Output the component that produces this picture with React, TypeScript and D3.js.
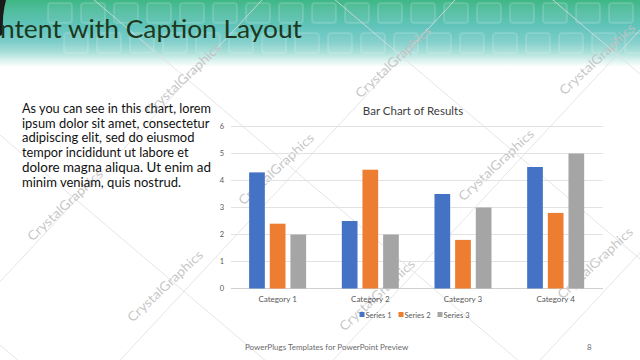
import React from "react";
import * as d3 from "d3";

const categories = ["Category 1", "Category 2", "Category 3", "Category 4"];
const seriesNames = ["Series 1", "Series 2", "Series 3"];
const series1 = [4.3, 2.5, 3.5, 4.5];
const series2 = [2.4, 4.4, 1.8, 2.8];
const series3 = [2, 2, 3, 5];
const yTicks = [0, 1, 2, 3, 4, 5, 6];
const captionLines = [
  "As you can see in this chart, lorem",
  "ipsum dolor sit amet, consectetur",
  "adipiscing elit, sed do eiusmod",
  "tempor incididunt ut labore et",
  "dolore magna aliqua. Ut enim ad",
  "minim veniam, quis nostrud.",
];
const captionWidths = [189, 187.5, 172.5, 166.5, 189, 159];
const watermarks: [number, number][] = [
  [184, 80], [394, 63], [598, 60], [66, 206], [277, 170], [497, 166], [166, 287], [378, 296], [596, 264],
];
const upLines = [262, 455, 668, 875, 1080];
const downLines = [345, 135, -80, -285, -470];

const colors = ["#4472c4", "#ed7d31", "#a5a5a5"];
const FONT = "Lato, 'Open Sans', sans-serif";

export default function App() {
  const data = [series1, series2, series3];
  const x0 = d3.scaleBand<string>().domain(categories).range([231.3, 602]).padding(0);
  const x1 = d3.scaleBand<string>().domain(seriesNames).range([-28.5, 28.5]).paddingInner(0.24);
  const y = d3.scaleLinear().domain([0, 6]).range([288.5, 126.5]);

  const squares: { x: number; y: number }[] = [];
  for (let r = 0; r < 2; r++) {
    for (let i = 0; i < 20; i++) {
      squares.push({ x: 48 + i * 33 + (r ? 16 : 0), y: r ? 33 : 3 });
    }
  }

  return (
    <svg width={640} height={360} style={{ position: "fixed", left: 0, top: 0, background: "#fff" }}>
      <defs>
        <linearGradient id="hdr" x1="0" y1="0" x2="0" y2="1">
          <stop offset="0" stopColor="#3fb785" />
          <stop offset="0.15" stopColor="#4fbd9c" />
          <stop offset="0.4" stopColor="#62c4bd" />
          <stop offset="0.62" stopColor="#7ccdc9" />
          <stop offset="0.78" stopColor="#a9dfd8" />
          <stop offset="0.9" stopColor="#dbf2ef" />
          <stop offset="1" stopColor="#ffffff" />
        </linearGradient>
      </defs>
      <rect x={0} y={0} width={640} height={360} fill="#fff" />
      {/* header band */}
      <rect x={0} y={0} width={640} height={67} fill="url(#hdr)" />
      {squares.map((s, i) => (
        <rect key={i} x={s.x} y={s.y} width={24} height={20} rx={3} fill="#ffffff" fillOpacity={0.06}
          stroke="#ffffff" strokeOpacity={0.14} strokeWidth={2} />
      ))}
      <path d="M0,0 L6,0 Q2,14 3,34 L0,36 Z" fill="#1a1a1a" />
      {/* watermark lines */}
      <g stroke="#dedede" strokeOpacity={0.8} strokeWidth={1}>
        {upLines.map((c, i) => (
          <line key={"u" + i} x1={c} y1={0} x2={c - 0.93 * 360} y2={360} />
        ))}
        {downLines.map((c, i) => (
          <line key={"d" + i} x1={0} y1={c} x2={640} y2={c + 0.85 * 640} />
        ))}
      </g>
      {watermarks.map(([cx, cy], i) => (
        <text key={"w" + i} x={cx} y={cy} transform={`rotate(-43 ${cx} ${cy})`} textAnchor="middle"
          dominantBaseline="middle" fontFamily={FONT} fontSize={13} fill="#c0c0c0" fillOpacity={0.9}
          textLength={98} lengthAdjust="spacingAndGlyphs">
          CrystalGraphics
        </text>
      ))}
      {/* title */}
      <text x={0} y={38} fontFamily={FONT} fontSize={25.5} fill="#1c3920" textLength={302} lengthAdjust="spacingAndGlyphs">
        ntent with Caption Layout
      </text>
      {/* caption */}
      {captionLines.map((l, i) => (
        <text key={"c" + i} x={22} y={113 + i * 14.7} fontFamily={FONT} fontSize={13.3} fill="#111"
          textLength={captionWidths[i]} lengthAdjust="spacingAndGlyphs">
          {l}
        </text>
      ))}
      {/* chart */}
      <text x={413} y={114.5} textAnchor="middle" fontFamily={FONT} fontSize={11.5} fill="#404040">
        Bar Chart of Results
      </text>
      {yTicks.map((t) => (
        <g key={"t" + t}>
          <line x1={231} x2={603} y1={y(t)} y2={y(t)} stroke={t === 0 ? "#d0d0d0" : "#e2e2e2"} strokeWidth={1} />
          <text x={224} y={y(t) + 2.8} textAnchor="end" fontFamily={FONT} fontSize={7.5} fill="#595959">
            {t}
          </text>
        </g>
      ))}
      {categories.map((c, ci) => {
        const cx = (x0(c) as number) + x0.bandwidth() / 2;
        return (
          <g key={c}>
            {data.map((s, si) => (
              <rect key={si} x={cx + (x1(seriesNames[si]) as number)} y={y(s[ci])} width={x1.bandwidth()}
                height={y(0) - y(s[ci])} fill={colors[si]} />
            ))}
            <text x={cx} y={302} textAnchor="middle" fontFamily={FONT} fontSize={8} fill="#595959">
              {c}
            </text>
          </g>
        );
      })}
      {/* legend */}
      {seriesNames.map((n, i) => {
        const lx = 359.5 + i * 39;
        return (
          <g key={n}>
            <rect x={lx} y={312} width={5} height={5} fill={colors[i]} />
            <text x={lx + 6} y={317.5} fontFamily={FONT} fontSize={7.5} fill="#595959">
              {n}
            </text>
          </g>
        );
      })}
      {/* footer */}
      <text x={245} y={350} fontFamily={FONT} fontSize={8} fill="#6a6a6a">
        PowerPlugs Templates for PowerPoint  Preview
      </text>
      <text x={587} y={350} fontFamily={FONT} fontSize={8} fill="#6a6a6a">
        8
      </text>
    </svg>
  );
}
